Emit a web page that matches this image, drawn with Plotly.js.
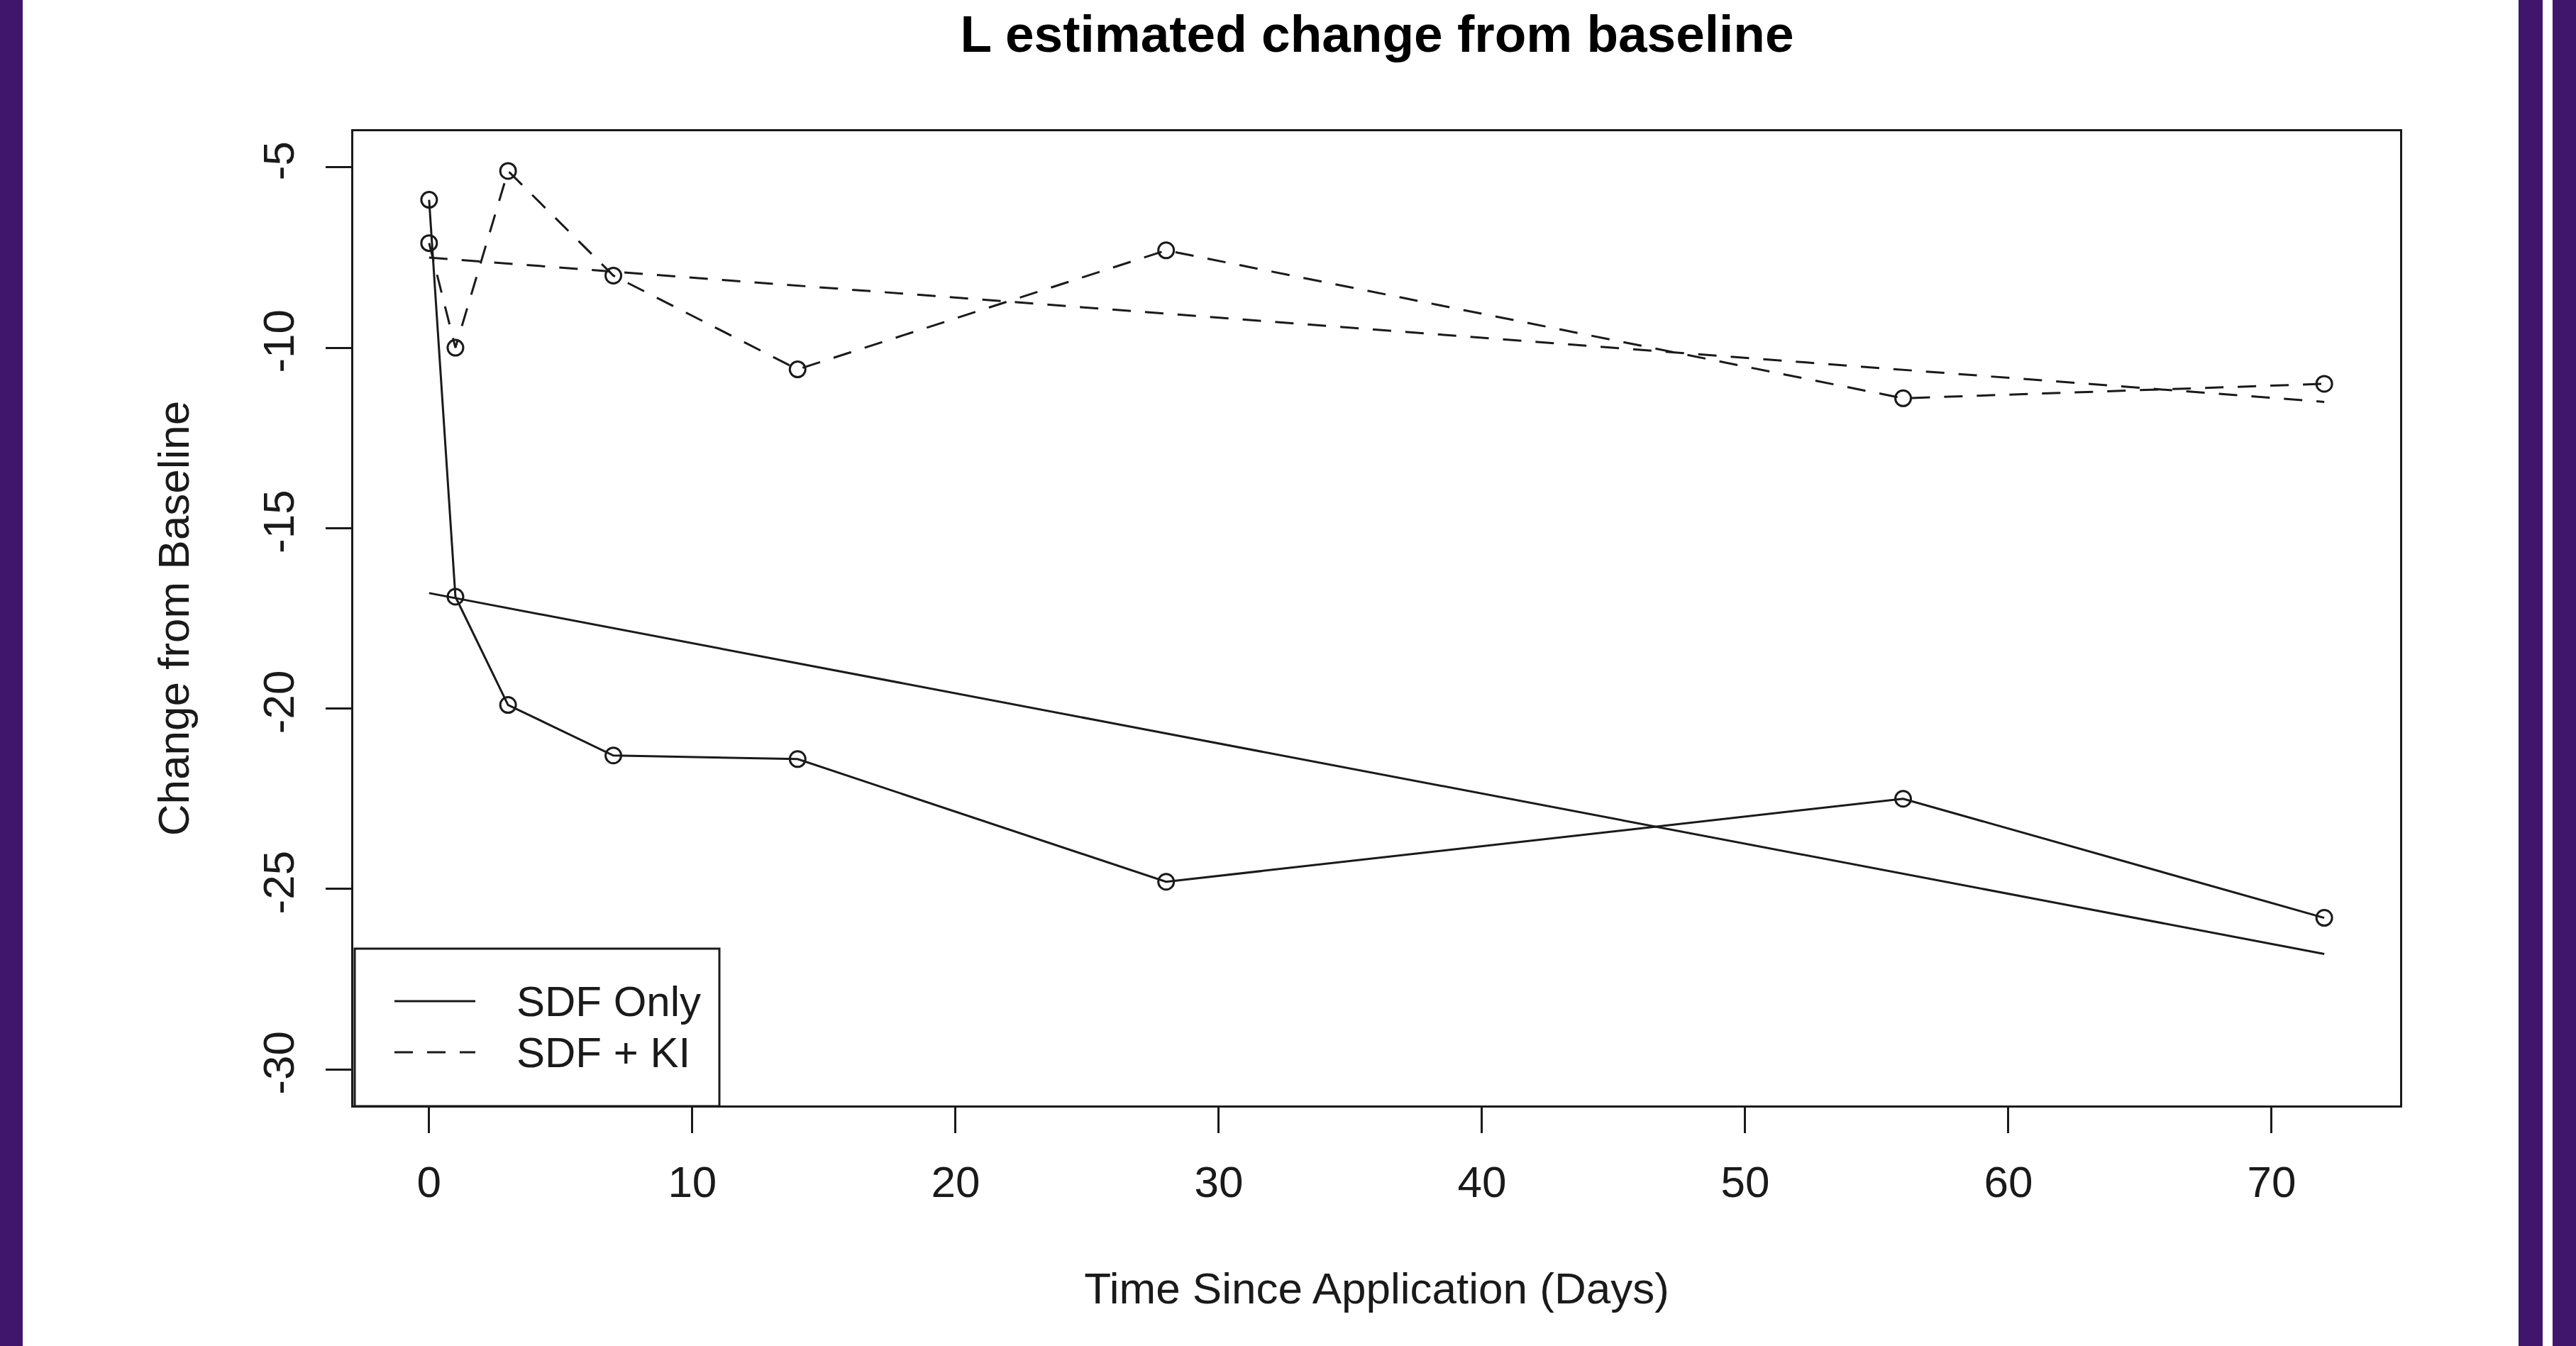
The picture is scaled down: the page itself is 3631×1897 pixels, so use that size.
<!DOCTYPE html>
<html>
<head>
<meta charset="utf-8">
<script src="https://cdn.plot.ly/plotly-3.0.1.min.js"></script>
<style>
  html, body { margin: 0; padding: 0; background: #ffffff; }
  #chart { width: 3631px; height: 1897px; }
</style>
</head>
<body>
<div id="chart"></div>
<script>
// ---- data ----
const days = [0, 1, 3, 7, 14, 28, 56, 72];
const sdfOnly = [-5.9, -16.9, -19.9, -21.3, -21.4, -24.8, -22.5, -25.8];
const sdfKI = [-7.1, -10.0, -5.1, -8.0, -10.6, -7.3, -11.4, -11.0];
const trendDays = [0, 72];
const sdfOnlyTrend = [-16.8, -26.8];
const sdfKITrend = [-7.5, -11.5];
const xTickVals = [0, 10, 20, 30, 40, 50, 60, 70];
const xTickText = ["0", "10", "20", "30", "40", "50", "60", "70"];
const yTickVals = [-30, -25, -20, -15, -10, -5];
const yTickText = ["-30", "-25", "-20", "-15", "-10", "-5"];
const seriesNames = ["SDF Only", "SDF + KI"];

// ---- layout geometry ----
const W = 3631, H = 1897;
const M = { l: 498, r: 248, t: 185, b: 339 };
const PW = W - M.l - M.r, PH = H - M.t - M.b;
const px2x = p => (p - M.l) / PW;
const px2y = p => (H - M.b - p) / PH;
const purple = '#40166c';
const ink = '#1a1a1a';
const FONT = '"Liberation Sans", Arial, sans-serif';

const dashKI = '26px,20px';

const traces = [
  { x: days, y: sdfOnly, type: 'scatter', mode: 'lines+markers', name: seriesNames[0], showlegend: false,
    line: { color: ink, width: 3, dash: 'solid' },
    marker: { symbol: 'circle-open', size: 22, color: ink, line: { width: 3, color: ink } } },
  { x: days, y: sdfKI, type: 'scatter', mode: 'lines+markers', name: seriesNames[1], showlegend: false,
    line: { color: ink, width: 3, dash: dashKI },
    marker: { symbol: 'circle-open', size: 22, color: ink, line: { width: 3, color: ink } } },
  { x: trendDays, y: sdfOnlyTrend, type: 'scatter', mode: 'lines', name: seriesNames[0] + ' trend', showlegend: false,
    line: { color: ink, width: 3, dash: 'solid' } },
  { x: trendDays, y: sdfKITrend, type: 'scatter', mode: 'lines', name: seriesNames[1] + ' trend', showlegend: false,
    line: { color: ink, width: 3, dash: dashKI } }
];

const axisCommon = {
  showgrid: false, zeroline: false,
  showline: true, mirror: true, linecolor: ink, linewidth: 3,
  ticks: 'outside', ticklen: 36, tickwidth: 3, tickcolor: ink,
  tickfont: { family: FONT, size: 62, color: ink },
  tickmode: 'array'
};

// manual R-style legend box (bottom-left of plot area)
const legBox = { x0: 500, x1: 1014, y0: 1337, y1: 1559 };
const legRows = [1411, 1483];
const legLine = { x0: 556, x1: 670 };
const legTextX = 726;

const shapes = [
  { type: 'rect', xref: 'paper', yref: 'paper', layer: 'above',
    x0: px2x(legBox.x0), x1: px2x(legBox.x1), y0: px2y(legBox.y1), y1: px2y(legBox.y0),
    fillcolor: '#ffffff', line: { color: ink, width: 3 } },
  { type: 'line', xref: 'paper', yref: 'paper', layer: 'above',
    x0: px2x(legLine.x0), x1: px2x(legLine.x1), y0: px2y(legRows[0]), y1: px2y(legRows[0]),
    line: { color: ink, width: 3, dash: 'solid' } },
  { type: 'line', xref: 'paper', yref: 'paper', layer: 'above',
    x0: px2x(legLine.x0), x1: px2x(legLine.x1), y0: px2y(legRows[1]), y1: px2y(legRows[1]),
    line: { color: ink, width: 3, dash: dashKI } },
  { type: 'rect', xref: 'paper', yref: 'paper', layer: 'above',
    x0: px2x(0), x1: px2x(32), y0: px2y(H), y1: px2y(0),
    fillcolor: purple, line: { width: 0 } },
  { type: 'rect', xref: 'paper', yref: 'paper', layer: 'above',
    x0: px2x(3550), x1: px2x(3584), y0: px2y(H), y1: px2y(0),
    fillcolor: purple, line: { width: 0 } },
  { type: 'rect', xref: 'paper', yref: 'paper', layer: 'above',
    x0: px2x(3598), x1: px2x(W), y0: px2y(H), y1: px2y(0),
    fillcolor: purple, line: { width: 0 } }
];

const annotations = seriesNames.map((name, i) => ({
  text: name, xref: 'paper', yref: 'paper',
  x: px2x(legTextX), y: px2y(legRows[i]), xanchor: 'left', yanchor: 'middle',
  showarrow: false, font: { family: FONT, size: 60, color: ink }
}));

const layout = {
  width: W, height: H,
  margin: M,
  paper_bgcolor: '#ffffff', plot_bgcolor: '#ffffff',
  font: { family: FONT, color: ink },
  title: {
    text: '<b>L estimated change from baseline</b>',
    font: { family: FONT, size: 73, color: '#000' },
    x: 1941 / W, xanchor: 'center', xref: 'container',
    y: 1 - 47 / H, yanchor: 'middle', yref: 'container'
  },
  xaxis: Object.assign({}, axisCommon, {
    range: [-2.88, 74.88],
    tickvals: xTickVals, ticktext: xTickText,
    ticklabelstandoff: 16,
    title: { text: 'Time Since Application (Days)', font: { family: FONT, size: 62, color: ink }, standoff: 95 }
  }),
  yaxis: Object.assign({}, axisCommon, {
    range: [-31, -4],
    tickvals: yTickVals, ticktext: yTickText,
    tickangle: -90,
    ticklabelstandoff: 20,
    title: { text: 'Change from Baseline', font: { family: FONT, size: 62, color: ink }, standoff: 72 }
  }),
  showlegend: false,
  shapes: shapes,
  annotations: annotations
};

Plotly.newPlot('chart', traces, layout, { displayModeBar: false, staticPlot: true });
</script>
</body>
</html>
